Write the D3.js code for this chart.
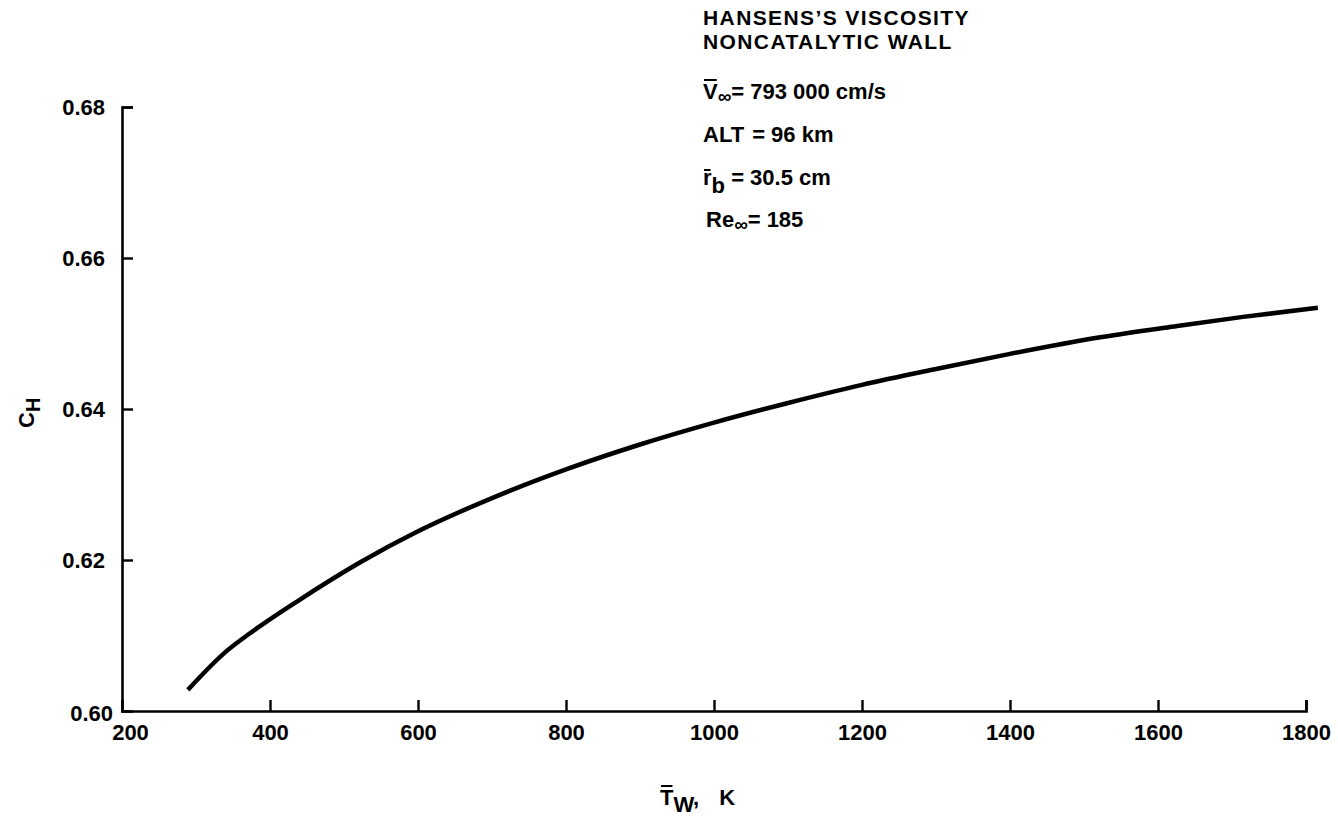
<!DOCTYPE html>
<html>
<head>
<meta charset="utf-8">
<script src="https://cdn.jsdelivr.net/npm/d3@7"></script>
<style>
  html, body { margin: 0; padding: 0; background: #fff; }
  svg { display: block; }
  text { font-family: "Liberation Sans", Arial, Helvetica, sans-serif; font-weight: bold; fill: #000; }
</style>
</head>
<body>
<svg id="chart" width="1338" height="824"></svg>
<script>
// Wall temperature (K) and heat-transfer coefficient C_H along the curve
const wallTemp = [289, 342, 373, 438, 522, 600, 700, 800, 900, 1000, 1100, 1200, 1300, 1400, 1522, 1626, 1715, 1816];
const heatCoef = [0.6028, 0.6080, 0.6103, 0.6146, 0.6197, 0.6238, 0.6282, 0.6320, 0.6353, 0.6382, 0.6408, 0.6432, 0.6453, 0.6473, 0.6495, 0.6510, 0.6522, 0.6534];

const xTicks = [200, 400, 600, 800, 1000, 1200, 1400, 1600, 1800];
const yTicks = [0.60, 0.62, 0.64, 0.66, 0.68];

const svg = d3.select("#chart");
const plotLeft = 122, plotRight = 1306, plotTop = 107, plotBottom = 711;

const x = d3.scaleLinear().domain([200, 1800]).range([plotLeft, plotRight]);
const y = d3.scaleLinear().domain([0.60, 0.68]).range([plotBottom, plotTop]);

// x axis: ticks point up into the plot
const gx = svg.append("g").attr("transform", `translate(0,${plotBottom})`)
  .call(d3.axisBottom(x).tickValues(xTicks).tickFormat(d3.format("d")).tickSize(-11).tickPadding(13));
gx.selectAll(".tick").filter(d => d === 200).select("line").remove();
gx.selectAll(".tick").filter(d => d === 200).select("text").attr("dx", 8);

// y axis: ticks point right into the plot
const gy = svg.append("g").attr("transform", `translate(${plotLeft},0)`)
  .call(d3.axisLeft(y).tickValues(yTicks).tickFormat(d3.format(".2f")).tickSize(-11).tickPadding(17));
gy.selectAll(".tick").filter(d => d === 0.60).select("line").remove();
gy.selectAll(".tick").filter(d => d === 0.60).select("text").attr("dx", 8).attr("dy", "0.42em");

[gx, gy].forEach(g => {
  g.select(".domain").attr("stroke", "#000").attr("stroke-width", 2.6);
  g.selectAll(".tick line").attr("stroke", "#000").attr("stroke-width", 2.4);
  g.selectAll(".tick text").attr("font-size", 22).attr("font-family", null).attr("fill", "#000");
});

// the curve
const pts = wallTemp.map((t, i) => [t, heatCoef[i]]);
svg.append("path")
  .datum(pts)
  .attr("fill", "none")
  .attr("stroke", "#000")
  .attr("stroke-width", 4.5)
  .attr("stroke-linecap", "butt")
  .attr("d", d3.line().x(d => x(d[0])).y(d => y(d[1])).curve(d3.curveMonotoneX));

// draw a bar over character i of a text element
function overbar(textSel, i, lift) {
  const node = textSel.node();
  const ext = node.getExtentOfChar(i);
  svg.append("line")
    .attr("x1", ext.x + 1).attr("x2", ext.x + ext.width - 1)
    .attr("y1", ext.y + lift).attr("y2", ext.y + lift)
    .attr("stroke", "#000").attr("stroke-width", 2);
}

// annotation block
const ax = 703;
svg.append("text").attr("x", ax).attr("y", 25).attr("font-size", 21).attr("letter-spacing", 1.4).text("HANSENS\u2019S VISCOSITY");
svg.append("text").attr("x", ax).attr("y", 49).attr("font-size", 21).attr("letter-spacing", 1.4).text("NONCATALYTIC WALL");

const tV = svg.append("text").attr("x", ax).attr("y", 99).attr("font-size", 22);
tV.append("tspan").text("V");
tV.append("tspan").attr("font-size", 19).attr("dy", 4).text("\u221E");
tV.append("tspan").attr("dy", -4).text("= 793 000 cm/s");
overbar(tV, 0, 1);

const tA = svg.append("text").attr("x", ax).attr("y", 142).attr("font-size", 22);
tA.append("tspan").text("ALT");
tA.append("tspan").attr("dx", 8).text("= 96 km");

const tR = svg.append("text").attr("x", ax).attr("y", 185).attr("font-size", 22);
tR.append("tspan").text("r");
tR.append("tspan").attr("dy", 8).text("b");
tR.append("tspan").attr("dy", -8).text(" = 30.5 cm");
overbar(tR, 0, 5);

const tRe = svg.append("text").attr("x", ax + 3).attr("y", 227).attr("font-size", 22);
tRe.append("tspan").text("Re");
tRe.append("tspan").attr("font-size", 19).attr("dy", 4).text("\u221E");
tRe.append("tspan").attr("dy", -4).text("= 185");

// y axis title: C with subscript H
const tY = svg.append("text").attr("transform", "translate(34,428) rotate(-90)").attr("font-size", 22);
tY.append("tspan").text("C");
tY.append("tspan").attr("dy", 6).attr("font-size", 20).text("H");

// x axis title: T-bar with subscript W, then the unit
const tX = svg.append("text").attr("x", 660).attr("y", 805).attr("font-size", 22);
tX.append("tspan").text("T");
tX.append("tspan").attr("dy", 7).text("W");
tX.append("tspan").attr("dy", -7).text(",");
tX.append("tspan").attr("dx", 20).text("K");
overbar(tX, 0, 1);
</script>
</body>
</html>
